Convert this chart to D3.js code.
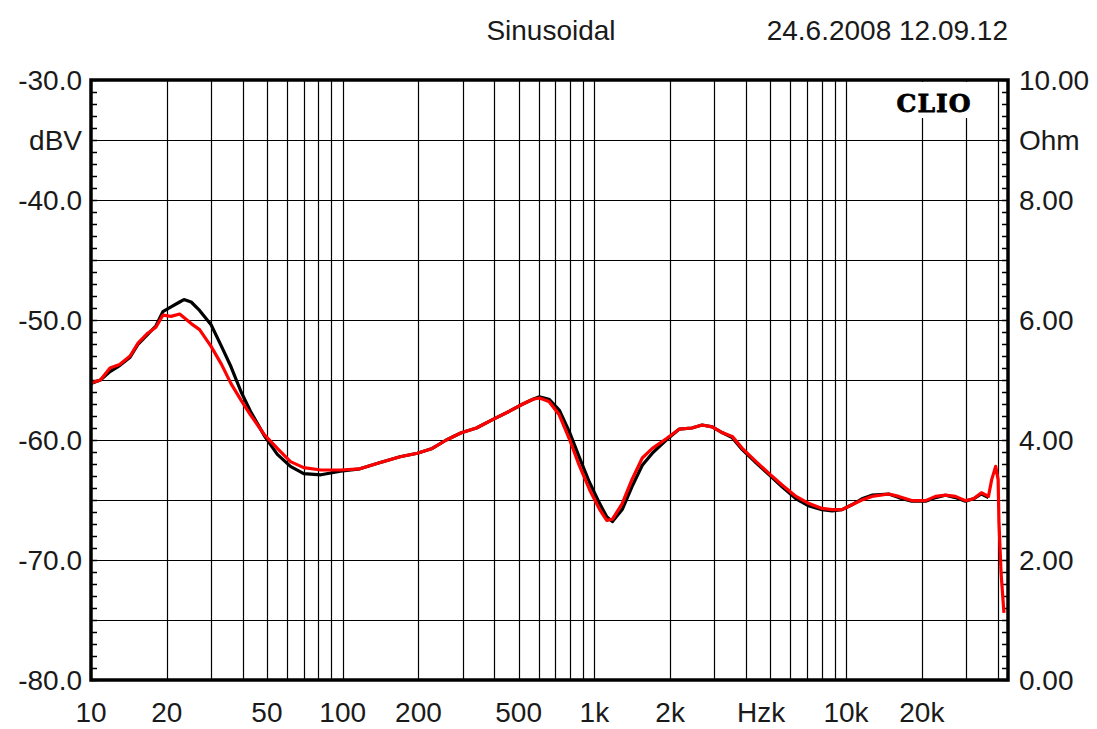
<!DOCTYPE html>
<html lang="en">
<head>
<meta charset="UTF-8">
<title>CLIO Sinusoidal</title>
<script src="https://d3js.org/d3.v7.min.js"></script>
<style>
    body { margin: 0; background: #fff; }
    svg { display: block; }
    .lbl { font-family: "Liberation Sans", Arial, sans-serif; font-size: 28px; fill: #1a1a1a; }
    .grid line { stroke: #000; stroke-width: 1.2px; }
</style>
</head>
<body>
<script>
    // frequency points (Hz) shared by both traces
    const freqs = [10, 10.9, 11.9, 13.0, 14.3, 15.4, 16.8, 18.1, 19.3, 20.8, 22.5, 23.4, 25, 27, 30, 33, 36, 39.5, 43, 49,
        55, 62, 70, 82, 98, 117, 140, 169, 198, 227, 258, 296, 340, 394, 460, 520, 570, 605, 660, 725,
        795, 870, 955, 1050, 1120, 1180, 1290, 1410, 1550, 1700, 1930, 2170, 2440, 2680, 2940, 3230, 3530, 3870, 4390, 4950,
        5570, 6330, 7130, 8030, 8800, 9640, 10550, 11560, 12670, 14780, 16190, 18230, 20700, 22670, 24840, 27220, 29800, 32100, 34500, 36800,
        37900, 39300, 40200, 40500, 41300, 42400];

    // black trace (dBV)
    const blackDb = [-55.3, -55.0, -54.3, -53.8, -53.1, -52.0, -51.2, -50.5, -49.3, -48.9, -48.5, -48.3, -48.5, -49.2, -50.4, -52.2, -53.9, -56.0, -57.6, -59.7,
        -61.2, -62.2, -62.8, -62.9, -62.6, -62.4, -61.9, -61.4, -61.1, -60.7, -60.0, -59.4, -59.0, -58.3, -57.6, -57.0, -56.6, -56.4, -56.6, -57.5,
        -59.3, -61.4, -63.5, -65.3, -66.4, -66.8, -65.8, -63.9, -62.1, -61.1, -60.0, -59.1, -59.0, -58.75, -58.9, -59.4, -59.8, -60.8, -61.9, -62.9,
        -63.9, -64.9, -65.5, -65.8, -65.9, -65.8, -65.4, -64.9, -64.6, -64.5, -64.8, -65.1, -65.1, -64.8, -64.6, -64.8, -65.1, -64.9, -64.5, -64.8,
        null, null, null, null, null, null];

    // red trace (dBV)
    const redDb = [-55.25, -55.0, -54.0, -53.7, -53.0, -51.9, -51.1, -50.6, -49.6, -49.7, -49.5, -49.8, -50.3, -50.8, -52.2, -53.7, -55.3, -56.7, -57.9, -59.6,
        -60.7, -61.8, -62.3, -62.5, -62.5, -62.4, -61.9, -61.4, -61.1, -60.7, -60.0, -59.4, -59.0, -58.3, -57.6, -57.0, -56.6, -56.5, -56.8, -57.9,
        -59.9, -62.1, -64.1, -65.8, -66.7, -66.6, -65.3, -63.3, -61.5, -60.7, -59.9, -59.1, -59.0, -58.75, -58.9, -59.4, -59.7, -60.7, -61.8, -62.8,
        -63.75, -64.7, -65.3, -65.7, -65.8, -65.8, -65.4, -65.0, -64.7, -64.5, -64.7, -65.05, -65.05, -64.7, -64.6, -64.7, -65.05, -64.9, -64.4, -64.7,
        -63.3, -62.2, -63.3, -66.8, -71.1, -74.4];

    const xLabelFreqs = [10, 20, 50, 100, 200, 500, 1000, 2000, 4600, 10000, 20000];
    const xLabelText = ["10", "20", "50", "100", "200", "500", "1k", "2k", "Hzk", "10k", "20k"];
    const dbTicks = [-30, -35, -40, -50, -60, -70, -80];
    const ohmTicks = [10, 9, 8, 6, 4, 2, 0];

    const width = 1097, height = 729;
    const plot = { left: 91, right: 1008, top: 80, bottom: 680 };

    const x = d3.scaleLog().domain([10, 44000]).range([plot.left, plot.right]);
    const y = d3.scaleLinear().domain([-80, -30]).range([plot.bottom, plot.top]);
    const yOhm = d3.scaleLinear().domain([0, 10]).range([plot.bottom, plot.top]);

    const svg = d3.select("body").append("svg")
        .attr("width", width)
        .attr("height", height);

    // vertical grid: every 1-2-...-9 per decade
    const gridFreqs = [];
    [10, 100, 1000, 10000].forEach(dec => {
        for (let m = 1; m <= 9; m++) {
            const f = dec * m;
            if (f > 10 && f < 44000) gridFreqs.push(f);
        }
    });

    const grid = svg.append("g").attr("class", "grid");
    grid.selectAll(".v").data(gridFreqs).enter().append("line")
        .attr("x1", d => Math.round(x(d)) + 0.5).attr("x2", d => Math.round(x(d)) + 0.5)
        .attr("y1", plot.top).attr("y2", plot.bottom);
    grid.selectAll(".h").data(d3.range(-75, -30, 5)).enter().append("line")
        .attr("x1", plot.left).attr("x2", plot.right)
        .attr("y1", d => y(d) + 0.5).attr("y2", d => y(d) + 0.5);

    // minor ticks on both vertical axes, inside the frame
    svg.append("g")
        .attr("transform", `translate(${plot.left},0)`)
        .call(d3.axisRight(y).tickValues(d3.range(-80, -29, 1)).tickSize(6).tickFormat(""))
        .call(g => g.select(".domain").remove())
        .selectAll("line").attr("stroke", "#000").attr("stroke-width", 1.5);
    svg.append("g")
        .attr("transform", `translate(${plot.right},0)`)
        .call(d3.axisLeft(yOhm).tickValues(d3.range(0, 10.01, 0.2)).tickSize(6).tickFormat(""))
        .call(g => g.select(".domain").remove())
        .selectAll("line").attr("stroke", "#000").attr("stroke-width", 1.5);

    // CLIO badge
    svg.append("rect")
        .attr("x", 884).attr("y", plot.top + 2)
        .attr("width", 104).attr("height", 36)
        .attr("fill", "#fff");
    svg.append("text")
        .attr("x", 934).attr("y", 112)
        .attr("text-anchor", "middle")
        .style("font-family", "'DejaVu Serif', 'Liberation Serif', serif")
        .style("font-weight", "900")
        .style("font-size", "25px")
        .style("letter-spacing", "1px")
        .attr("fill", "#000")
        .attr("stroke", "#000")
        .attr("stroke-width", 0.8)
        .text("CLIO");

    // traces
    const line = d3.line()
        .defined(d => d[1] != null)
        .x(d => x(d[0]))
        .y(d => y(d[1]));

    svg.append("path")
        .datum(freqs.map((f, i) => [f, blackDb[i]]))
        .attr("fill", "none")
        .attr("stroke", "#000")
        .attr("stroke-width", 3.2)
        .attr("stroke-linejoin", "round")
        .attr("d", line);

    svg.append("path")
        .datum(freqs.map((f, i) => [f, redDb[i]]))
        .attr("fill", "none")
        .attr("stroke", "#ff0000")
        .attr("stroke-width", 3.2)
        .attr("stroke-linejoin", "round")
        .attr("d", line);

    // frame
    svg.append("rect")
        .attr("x", plot.left).attr("y", plot.top)
        .attr("width", plot.right - plot.left).attr("height", plot.bottom - plot.top)
        .attr("fill", "none")
        .attr("stroke", "#000")
        .attr("stroke-width", 3.5);

    // left labels
    svg.selectAll(".ldb").data(dbTicks).enter().append("text")
        .attr("class", "lbl")
        .attr("x", 82)
        .attr("y", d => y(d) + 10)
        .attr("text-anchor", "end")
        .text(d => d === -35 ? "dBV" : d3.format(".1f")(d).replace("−", "-"));

    // right labels
    svg.selectAll(".rohm").data(ohmTicks).enter().append("text")
        .attr("class", "lbl")
        .attr("x", 1019)
        .attr("y", d => yOhm(d) + 10)
        .text(d => d === 9 ? "Ohm" : d3.format(".2f")(d));

    // bottom labels
    svg.selectAll(".xl").data(xLabelFreqs).enter().append("text")
        .attr("class", "lbl")
        .attr("x", d => x(d))
        .attr("y", 722)
        .attr("text-anchor", "middle")
        .text((d, i) => xLabelText[i]);

    // header
    svg.append("text").attr("class", "lbl")
        .attr("x", 551).attr("y", 40)
        .attr("text-anchor", "middle")
        .text("Sinusoidal");
    svg.append("text").attr("class", "lbl")
        .attr("x", 1008).attr("y", 40)
        .attr("text-anchor", "end")
        .text("24.6.2008 12.09.12");
</script>
</body>
</html>
